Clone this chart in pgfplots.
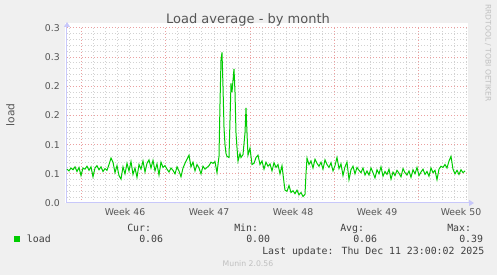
\documentclass[border=0pt]{standalone}
\usepackage{pgfplots}
\pgfplotsset{compat=1.18}
\usepackage{fontspec}
\setmainfont{DejaVu Sans}
\newfontfamily\monofont{DejaVu Sans Mono}
\usetikzlibrary{arrows.meta}
\definecolor{bgc}{HTML}{F0F0F0}
\definecolor{txt}{HTML}{555555}
\definecolor{ltxt}{HTML}{404040}
\definecolor{axc}{HTML}{C8C8FA}
\definecolor{mgrid}{HTML}{EBA0A0}
\definecolor{ngrid}{HTML}{D2D2D2}
\definecolor{lgreen}{HTML}{00CC00}
\definecolor{wm}{HTML}{C0C0C0}
\begin{document}
\begin{tikzpicture}[x=0.75pt,y=0.75pt]
\fill[bgc] (0,0) rectangle (497,275);
\useasboundingbox (0,0) rectangle (497,275);
\fill[white] (65,72) rectangle (468,252);
\begin{axis}[
  at={(50.25pt,54pt)}, anchor=south west, scale only axis,
  width=300.75pt, height=131.25pt,
  xmin=0, xmax=401, ymin=0, ymax=0.3,
  axis x line=bottom, axis y line=left,
  x axis line style={axc, line width=0.75pt, -{Triangle[length=3.75pt,width=4.5pt]}, shorten >=-4.5pt},
  y axis line style={axc, line width=0.75pt, -{Triangle[length=3.75pt,width=4.5pt]}, shorten >=-4.5pt},
  major tick length=0pt, minor tick length=0pt,
  grid=both,
  major grid style={mgrid, line width=0.75pt, dash pattern=on 0.75pt off 1.5pt},
  minor grid style={ngrid, line width=0.75pt, dash pattern=on 0.75pt off 1.5pt},
  xtick={15,99,183,267,351}, xticklabels={},
  minor xtick={3,15,...,399},
  ytick={0,0.05,0.1,0.15,0.2,0.25,0.3},
  yticklabels={0.0,0.1,0.1,0.2,0.2,0.3,0.3},
  minor y tick num=4,
  extra x ticks={58,142,226,310,394},
  extra x tick labels={Week 46,Week 47,Week 48,Week 49,Week 50},
  extra x tick style={grid=none},
  xticklabel style={font=\fontsize{7}{8}\selectfont, text=txt, anchor=base, inner sep=0pt, yshift=-9.5pt},
  yticklabel style={font=\fontsize{7}{8}\selectfont, text=txt, anchor=east, inner sep=0pt, xshift=-5.25pt},
  clip=false,
]
\addplot[lgreen, line width=0.75pt, mark=none] coordinates {
(0,0.058)(2,0.055)(4,0.060)(6,0.057)(8,0.062)(10,0.054)(12,0.061)(14,0.047)(16,0.060)(18,0.058)
(20,0.063)(22,0.056)(24,0.062)(26,0.045)(28,0.060)(30,0.064)(32,0.057)(34,0.062)(36,0.054)(38,0.059)
(40,0.056)(42,0.066)(44,0.077)(46,0.070)(48,0.052)(50,0.064)(52,0.047)(54,0.041)(56,0.062)(58,0.050)
(60,0.068)(62,0.055)(64,0.071)(66,0.049)(68,0.060)(70,0.044)(72,0.066)(74,0.058)(76,0.072)(78,0.053)
(80,0.068)(82,0.074)(84,0.060)(86,0.073)(88,0.055)(90,0.067)(92,0.048)(94,0.070)(96,0.061)(98,0.064)
(100,0.058)(102,0.053)(104,0.060)(106,0.056)(108,0.050)(110,0.062)(112,0.055)(114,0.045)(116,0.060)(118,0.068)
(120,0.075)(122,0.082)(124,0.062)(126,0.070)(128,0.055)(130,0.066)(132,0.060)(134,0.050)(136,0.063)(138,0.058)
(140,0.061)(142,0.064)(144,0.070)(146,0.068)(148,0.071)(150,0.052)
(152,0.080)(153,0.170)(154,0.245)(155,0.258)(156,0.200)(157,0.130)(158,0.100)(159,0.085)(160,0.080)(162,0.078)
(164,0.205)(165,0.190)(166,0.210)(167,0.230)(168,0.190)(169,0.120)(170,0.095)(171,0.072)(173,0.085)(174,0.078)
(176,0.083)(178,0.120)(179,0.163)(180,0.120)(181,0.082)(182,0.088)(183,0.094)(185,0.066)
(187,0.068)(189,0.078)(191,0.082)(193,0.066)(195,0.072)(197,0.058)(199,0.070)(201,0.063)(203,0.067)(205,0.055)
(207,0.069)(209,0.061)(211,0.066)(213,0.050)(215,0.064)(217,0.035)(218,0.022)
(220,0.020)(222,0.030)(224,0.018)(226,0.021)(228,0.016)(230,0.022)(232,0.014)(234,0.018)(236,0.011)(238,0.015)
(239,0.050)(240,0.077)
(242,0.066)(244,0.072)(246,0.060)(248,0.075)(250,0.068)(252,0.063)(254,0.070)(256,0.058)(258,0.074)(260,0.066)
(262,0.061)(264,0.069)(266,0.055)(268,0.064)(270,0.078)(272,0.059)(274,0.067)(276,0.047)(278,0.062)(280,0.070)
(282,0.040)(284,0.057)(286,0.063)(288,0.050)(290,0.061)(292,0.056)(294,0.052)(296,0.060)(298,0.048)
(300,0.055)(302,0.048)(304,0.060)(306,0.052)(308,0.043)(310,0.057)(312,0.050)(314,0.062)(316,0.046)(318,0.054)
(320,0.049)(322,0.058)(324,0.041)(326,0.053)(328,0.047)(330,0.056)(332,0.051)(334,0.045)(336,0.059)(338,0.052)
(340,0.048)(342,0.055)(344,0.044)(346,0.057)(348,0.050)(350,0.061)(352,0.047)(354,0.053)(356,0.058)(358,0.049)
(360,0.054)(362,0.046)(364,0.060)(366,0.052)(368,0.056)(370,0.040)(372,0.058)(374,0.063)(376,0.061)(378,0.066)
(380,0.060)(382,0.072)(384,0.080)(386,0.058)(388,0.050)(390,0.056)(392,0.049)(394,0.057)(396,0.052)(398,0.055)
};
\end{axis}
\node[font=\fontsize{9.75}{11}\selectfont, text=txt, anchor=base] at (248,251) {Load average - by month};
\node[rotate=90, font=\fontsize{8}{9}\selectfont, text=txt] at (10.5,160) {load};
\node[rotate=-90, font=\fontsize{5.7}{6}\selectfont, text=wm, inner sep=0pt] at (488,222) {RRDTOOL / TOBI OETIKER};
\fill[lgreen] (14,33) rectangle (19.5,38.5);
\begin{scope}[every node/.style={font=\monofont\fontsize{7.41}{8.5}\selectfont, text=ltxt, anchor=base west, inner sep=0pt}]
\node at (26.7,32) {load};
\node at (127,43.3) {Cur:};
\node at (234,43.3) {Min:};
\node at (340,43.3) {Avg:};
\node at (447,43.3) {Max:};
\node at (139,32) {0.06};
\node at (246,32) {0.00};
\node at (353,32) {0.06};
\node at (459,32) {0.39};
\node at (262,20) {Last update: Thu Dec 11 23:00:02 2025};
\end{scope}
\node[font=\fontsize{5.8}{6}\selectfont, text=wm, anchor=base] at (248,8.5) {Munin 2.0.56};
\end{tikzpicture}
\end{document}
